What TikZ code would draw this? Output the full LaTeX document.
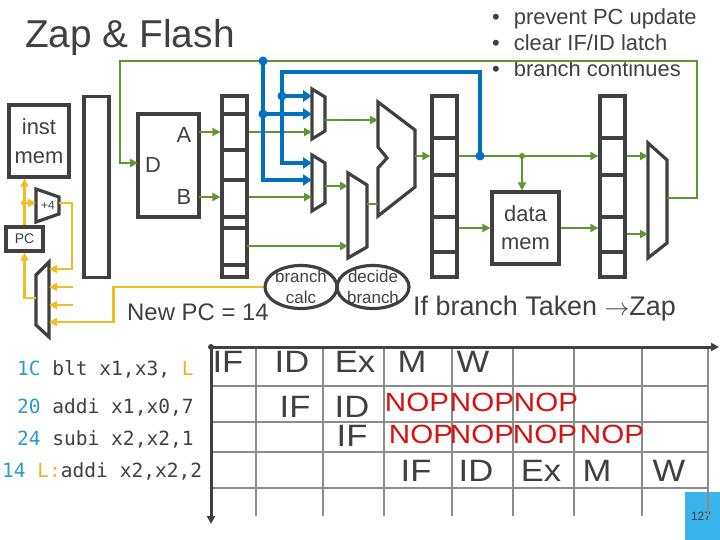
\documentclass[tikz,border=0pt]{standalone}
\usepackage{fontspec}
\setmainfont{Liberation Sans}
\newfontfamily\codefont{DejaVu Sans Mono}
\newfontfamily\gridfont{Liberation Sans}[FakeStretch=1.12]
\usetikzlibrary{arrows.meta,shapes.geometric}

\definecolor{ink}{RGB}{64,64,64}
\definecolor{wgreen}{RGB}{94,151,50}
\definecolor{wblue}{RGB}{0,112,192}
\definecolor{wyellow}{RGB}{242,190,40}
\definecolor{nopred}{RGB}{210,20,20}
\definecolor{addr}{RGB}{43,156,200}
\definecolor{lbl}{RGB}{232,182,40}
\definecolor{gridgray}{RGB}{140,140,140}
\definecolor{slidecyan}{RGB}{56,180,234}

\begin{document}
\begin{tikzpicture}[x=1bp, y=-1bp, >={Triangle[length=8bp,width=8bp]},
    box/.style={draw=ink, line width=3.2bp, inner sep=0pt, text=ink},
    latch/.style={box, minimum width=25bp, minimum height=181bp},
    mux/.style={draw=ink, line width=3.2bp},
    gwire/.style={draw=wgreen, line width=2.7bp},
    ywire/.style={draw=wyellow, line width=2.9bp},
    bwire/.style={draw=wblue, line width=4.2bp, >={Triangle[length=9bp,width=11bp]}},
    bubble/.style={box, ellipse, inner sep=-9bp, minimum width=72bp, minimum height=43bp, align=center, font=\fontsize{17}{21}\selectfont},
    note/.style={anchor=base west, inner sep=0pt, text=ink},
    code/.style={anchor=base west, inner sep=0pt, text=ink, font=\codefont\fontsize{19.6}{20}\selectfont},
    stage/.style={inner sep=0pt, text=ink, font=\gridfont\fontsize{31}{31}\selectfont},
    nop/.style={inner sep=0pt, text=nopred, font=\gridfont\fontsize{26.5}{26.5}\selectfont}]
    \useasboundingbox (0,0) rectangle (720,540);

    % Nodes {title, notes}
    \node [note, font=\fontsize{39}{39}\selectfont]  (title)  at (25,48)   {Zap \& Flash};
    \node [note, font=\fontsize{22}{22}\selectfont]  (note1)  at (492,25)  {\textbullet\hspace{14bp}prevent PC update};
    \node [note, font=\fontsize{22}{22}\selectfont]  (note2)  at (492,51)  {\textbullet\hspace{14bp}clear IF/ID latch};
    \node [note, font=\fontsize{22}{22}\selectfont]  (note3)  at (492,77)  {\textbullet\hspace{14bp}branch continues};

    % Nodes {memories, latches, PC}
    \node [box, minimum width=60bp, minimum height=72bp, align=center, font=\fontsize{22}{29}\selectfont] (imem) at (39,141) {inst\\mem};
    \node [latch]  (ifid)   at (96.5,187)   {};
    \node [box, minimum width=61bp, minimum height=103bp] (rf) at (168.5,165.5) {};
    \node [latch]  (idex)   at (234.5,186.5) {};
    \node [latch]  (exmem)  at (444.5,186.5) {};
    \node [box, minimum width=67bp, minimum height=72bp, align=center, font=\fontsize{22}{28}\selectfont] (dmem) at (525.5,228) {data\\mem};
    \node [latch]  (memwb)  at (612.5,186.5) {};
    \node [box, minimum width=37bp, minimum height=24bp, font=\fontsize{14}{14}\selectfont] (pc) at (24.5,239) {PC};
    \node [bubble] (bcalc)  at (301,287)  {branch\\calc};
    \node [bubble] (bdec)   at (373,287)  {decide\\branch};
    \node [text=ink, font=\fontsize{22}{22}\selectfont] (portA) at (184,135) {A};
    \node [text=ink, font=\fontsize{22}{22}\selectfont] (portD) at (153,165) {D};
    \node [text=ink, font=\fontsize{22}{22}\selectfont] (portB) at (184,197) {B};
    \node [text=ink, font=\fontsize{12}{12}\selectfont, inner sep=0pt] (inc) at (48,205) {+4};

    % latch fields
    \draw [mux] (222,114) -- (247,114) (222,150) -- (247,150) (222,180) -- (247,180)
                (222,217) -- (247,217) (222,228) -- (247,228) (222,265) -- (247,265);
    \draw [mux] (432,138) -- (457,138) (432,175) -- (457,175) (432,217) -- (457,217) (432,252) -- (457,252);
    \draw [mux] (600,138) -- (625,138) (600,175) -- (625,175) (600,217) -- (625,217) (600,252) -- (625,252);

    % Muxes, adder, ALU
    \draw [mux] (312,89) -- (325,97) -- (325,131) -- (312,139) -- cycle;
    \draw [mux] (312,155) -- (325,163) -- (325,203) -- (312,211) -- cycle;
    \draw [mux] (348,173) -- (367,185) -- (367,247) -- (348,258) -- cycle;
    \draw [mux] (378,102) -- (415,130) -- (415,187) -- (378,216) -- (378,168) -- (387,158) -- (378,147) -- cycle;
    \draw [mux] (648,143) -- (667,160) -- (667,243) -- (648,258) -- cycle;
    \draw [mux] (36,189) -- (59,197) -- (59,214) -- (36,222) -- cycle;
    \draw [mux] (49,262) -- (49,337) -- (36,325) -- (36,275) -- cycle;

    % Ports
    \coordinate (rfA)     at (199,132);
    \coordinate (rfB)     at (199,197);
    \coordinate (rfD)     at (138,163);
    \coordinate (imm)     at (247,246);
    \coordinate (muxA1)   at (312,96);
    \coordinate (muxA2)   at (312,114);
    \coordinate (muxA3)   at (312,132);
    \coordinate (muxAout) at (325,120);
    \coordinate (muxB1)   at (312,163);
    \coordinate (muxB2)   at (312,180);
    \coordinate (muxB3)   at (312,197);
    \coordinate (muxBout) at (325,186);
    \coordinate (srcB1)   at (348,186);
    \coordinate (srcB2)   at (348,246);
    \coordinate (srcout)  at (367,204);
    \coordinate (aluA)    at (378,120);
    \coordinate (aluB)    at (378,204);
    \coordinate (aluout)  at (415,156);
    \coordinate (wb1)     at (648,156);
    \coordinate (wb2)     at (648,234);
    \coordinate (wbout)   at (667,198);
    \coordinate (wbtop)   at (697,61);
    \coordinate (tap1)    at (263,61);
    \coordinate (tap2)    at (480,156);
    \coordinate (tap3)    at (263,114);
    \coordinate (tap4)    at (282,96);
    \coordinate (addr)    at (522,156);
    \coordinate (pcfork)  at (24,203);
    \coordinate (addin)   at (36,203);
    \coordinate (addout)  at (59,203);
    \coordinate (pcin1)   at (49,269);
    \coordinate (pcin2)   at (49,287);
    \coordinate (pcin3)   at (49,305);
    \coordinate (pcin4)   at (49,322);
    \coordinate (pcout)   at (36,298);
    \coordinate (stub2)   at (73,287);
    \coordinate (stub3)   at (73,305);

    % Paths {green}
    \draw [gwire,->] (wbout) -| (wbtop) -- (120,61) |- (rfD);
    \draw [gwire,->] (rfA) -- (idex.west |- rfA);
    \draw [gwire,->] (rfB) -- (idex.west |- rfB);
    \draw [gwire,->] (idex.east |- muxA3) -- (muxA3);
    \draw [gwire,->] (idex.east |- muxB3) -- (muxB3);
    \draw [gwire,->] (imm) -- (srcB2);
    \draw [gwire,->] (muxAout) -- (aluA);
    \draw [gwire,->] (muxBout) -- (srcB1);
    \draw [gwire]    (srcout) -- (aluB);
    \draw [gwire,->] (aluout) -- (exmem.west |- aluout);
    \draw [gwire,->] (exmem.east |- aluout) -- (memwb.west |- aluout);
    \draw [gwire,->] (addr) -- (dmem.north -| addr);
    \draw [gwire,->] (exmem.east |- dmem.west) -- (dmem.west);
    \draw [gwire,->] (dmem.east) -- (memwb.west |- dmem.east);
    \draw [gwire,->] (memwb.east |- wb1) -- (wb1);
    \draw [gwire,->] (memwb.east |- wb2) -- (wb2);
    \fill [wgreen] (addr) circle (3bp);

    % Paths {blue}
    \draw [bwire,->] (tap1) |- (muxB2);
    \draw [bwire,->] (tap3) -- (muxA2);
    \draw [bwire,->] (tap2) |- (282,72) |- (muxB1);
    \draw [bwire,->] (tap4) -- (muxA1);
    \fill [wblue] (tap1) circle (4.5bp) (tap2) circle (4.5bp) (tap3) circle (4.5bp) (tap4) circle (4.5bp);

    % Paths {yellow}
    \draw [ywire,->] (pc.north) -- (pc.north |- imem.south);
    \draw [ywire,->] (pcfork) -- (addin);
    \draw [ywire,->] (addout) -- (72,203) |- (pcin1);
    \draw [ywire,->] (stub2) -- (pcin2);
    \draw [ywire,->] (stub3) -- (pcin3);
    \draw [ywire,->] (bcalc.west) -- ++(-150,0) |- (pcin4);
    \draw [ywire,->] (pcout) -| (pc.south);
    \fill [wyellow] (pcfork) circle (3bp);

    % Nodes {remarks}
    \node [note, font=\fontsize{24}{24}\selectfont] (newpc) at (127,320) {New PC = 14};
    \node [note, font=\fontsize{27}{27}\selectfont] (taken) at (413,315) {If branch Taken $\rightarrow$Zap};

    % Nodes {code}
    \node [code] (line1) at (17,375) {\textcolor{addr}{1C} blt x1,x3, \textcolor{lbl}{L}};
    \node [code] (line2) at (17,413) {\textcolor{addr}{20} addi x1,x0,7};
    \node [code] (line3) at (17,445) {\textcolor{addr}{24} subi x2,x2,1};
    \node [code] (line4) at (2,477)  {\textcolor{addr}{14} \textcolor{lbl}{L:}addi x2,x2,2};

    % Pipeline chart
    \fill [slidecyan] (685,492) rectangle (720,540);
    \node [text=ink, font=\fontsize{12}{12}\selectfont] (slideno) at (701,516) {127};
    \draw [gridgray, line width=2bp] (211,386) -- (708,386) (211,422) -- (708,422)
                                     (211,452) -- (708,452) (211,488) -- (708,488);
    \draw [gridgray, line width=2bp] (256,347) -- (256,516) (323,347) -- (323,516) (384,347) -- (384,516)
                                     (452,347) -- (452,516) (513,347) -- (513,516) (574,347) -- (574,516)
                                     (642,347) -- (642,516) (708,347) -- (708,516);
    \coordinate (origin) at (211,347);
    \coordinate (tend)   at (719,347);
    \coordinate (iend)   at (211,524);
    \draw [ink, line width=3bp, ->] (origin) -- (tend);
    \draw [ink, line width=3bp, ->] (origin) -- (iend);
    \fill [ink] (origin) circle (3bp);

    \node [stage] (bltIF)  at (228,362) {IF};
    \node [stage] (bltID)  at (292,362) {ID};
    \node [stage] (bltEX)  at (355,362) {Ex};
    \node [stage] (bltM)   at (412,362) {M};
    \node [stage] (bltW)   at (473,362) {W};
    \node [stage] (addiIF) at (295,407) {IF};
    \node [stage] (addiID) at (352,407) {ID};
    \node [nop]   (addiN1) at (417,402) {NOP};
    \node [nop]   (addiN2) at (482,402) {NOP};
    \node [nop]   (addiN3) at (546,402) {NOP};
    \node [stage] (subiIF) at (352,436) {IF};
    \node [nop]   (subiN1) at (421,434) {NOP};
    \node [nop]   (subiN2) at (482,434) {NOP};
    \node [nop]   (subiN3) at (545,434) {NOP};
    \node [nop]   (subiN4) at (612,434) {NOP};
    \node [stage] (tgtIF)  at (416,471) {IF};
    \node [stage] (tgtID)  at (476,471) {ID};
    \node [stage] (tgtEX)  at (541,471) {Ex};
    \node [stage] (tgtM)   at (597,471) {M};
    \node [stage] (tgtW)   at (669,471) {W};
\end{tikzpicture}
\end{document}
